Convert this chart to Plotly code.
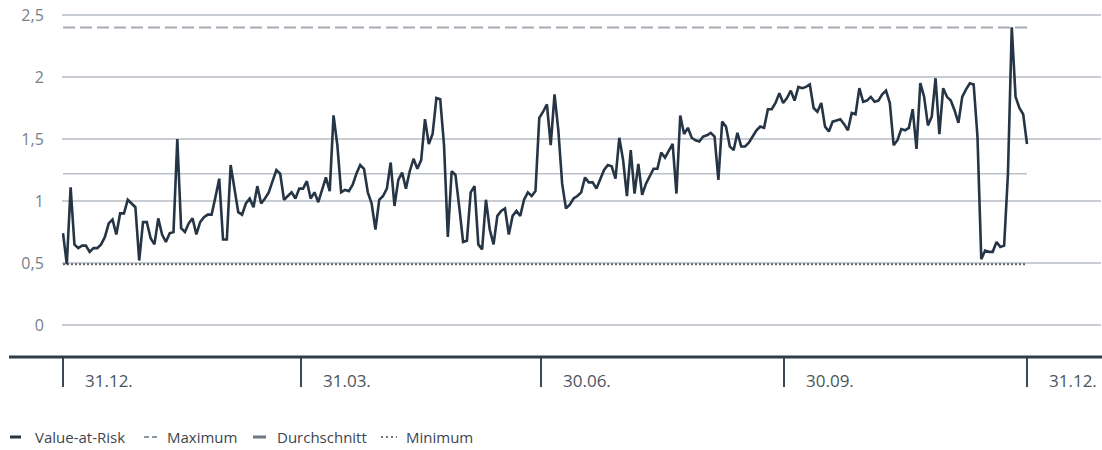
import plotly.graph_objects as go
import pandas as pd

# ---------------- data ----------------
START = "2020-12-31"
END = "2021-12-31"

var_values = [
    0.74, 0.49, 1.11, 0.65, 0.62, 0.64, 0.64, 0.59, 0.62, 0.62,
    0.65, 0.71, 0.82, 0.85, 0.73, 0.90, 0.90, 1.01, 0.98, 0.95,
    0.52, 0.83, 0.83, 0.70, 0.65, 0.86, 0.73, 0.67, 0.74, 0.75,
    1.50, 0.78, 0.75, 0.82, 0.86, 0.73, 0.83, 0.87, 0.89, 0.89,
    1.03, 1.18, 0.69, 0.69, 1.29, 1.08, 0.91, 0.89, 0.98, 1.02,
    0.95, 1.12, 0.98, 1.02, 1.07, 1.16, 1.25, 1.22, 1.01, 1.04,
    1.07, 1.02, 1.10, 1.10, 1.16, 1.02, 1.07, 0.99, 1.09, 1.19,
    1.08, 1.69, 1.45, 1.07, 1.09, 1.08, 1.13, 1.22, 1.29, 1.26,
    1.07,
    0.98, 0.77, 1.01, 1.04, 1.10, 1.31, 0.96, 1.17, 1.23, 1.10,
    1.24, 1.34, 1.26, 1.33, 1.66, 1.46, 1.54, 1.83, 1.82, 1.45,
    0.71, 1.24, 1.21, 0.95, 0.67, 0.68, 1.07, 1.12, 0.65, 0.61,
    1.01, 0.77, 0.65, 0.88, 0.92, 0.94, 0.73, 0.88, 0.92, 0.88,
    1.01, 1.07, 1.04, 1.08, 1.67, 1.72, 1.78, 1.45, 1.86, 1.57,
    1.14, 0.94, 0.97, 1.02, 1.04, 1.07, 1.19, 1.15, 1.15, 1.10,
    1.18, 1.25, 1.29, 1.28, 1.18, 1.51, 1.33, 1.04, 1.41, 1.06,
    1.30, 1.05, 1.14, 1.20, 1.26, 1.26, 1.39, 1.35, 1.40, 1.46,
    1.06, 1.69, 1.54, 1.59, 1.51, 1.49, 1.48, 1.52, 1.53, 1.55,
    1.52, 1.17, 1.64,
    1.60, 1.44, 1.41, 1.55, 1.44, 1.44, 1.47, 1.52, 1.57, 1.60,
    1.59, 1.74, 1.74, 1.79, 1.87, 1.79, 1.83, 1.89, 1.81, 1.92,
    1.91, 1.92, 1.94, 1.75, 1.72, 1.79, 1.60, 1.56, 1.64, 1.65,
    1.66, 1.62, 1.57, 1.71, 1.70, 1.91, 1.80, 1.81, 1.84, 1.80,
    1.81, 1.86, 1.89, 1.79, 1.45, 1.49, 1.58, 1.57, 1.59, 1.74,
    1.42, 1.95, 1.84, 1.61, 1.68, 1.99, 1.54, 1.91, 1.84, 1.81,
    1.73, 1.63, 1.84, 1.90, 1.95, 1.94, 1.52, 0.53, 0.60, 0.59,
    0.59, 0.67, 0.63, 0.64, 1.22, 2.40, 1.84, 1.75, 1.70, 1.46,
]

MAXIMUM = 2.40
AVERAGE = 1.22
MINIMUM = 0.49

y_tick_values = [0, 0.5, 1, 1.5, 2, 2.5]
x_tick_dates = ["2020-12-31", "2021-03-31", "2021-06-30", "2021-09-30", "2021-12-31"]
x_tick_labels = ["31.12.", "31.03.", "30.06.", "30.09.", "31.12."]
legend_names = ["Value-at-Risk", "Maximum", "Durchschnitt", "Minimum"]

# ---------------- geometry / style ----------------
W, H = 1102, 450
ML, MR, MT, MB = 62, 1, 10, 93
PLOT_W = W - ML - MR
PLOT_H = H - MT - MB
FONT = "Open Sans, Noto Sans, sans-serif"

VAR_COLOR = "#253545"
GRID_COLOR = "#c8cdd3"
MAX_COLOR = "#a4abb3"
AVG_COLOR = "#bcc2c9"
MIN_COLOR = "#5d6873"

start = pd.Timestamp(START)
end = pd.Timestamp(END)
dates = pd.date_range(start, end, periods=len(var_values))

days_total = (end - start).days
px_per_day = 964 / days_total
x_left = start - pd.Timedelta(days=1 / px_per_day)
x_right = start + pd.Timedelta(days=(W - MR - 63) / px_per_day)


def px_to_paper_x(px):
    return (px - ML) / PLOT_W


def px_to_paper_y(py):
    return (H - MB - py) / PLOT_H


fig = go.Figure()

# reference lines
fig.add_trace(go.Scatter(x=[start, end], y=[AVERAGE, AVERAGE], mode="lines",
                         line=dict(color=AVG_COLOR, width=1.5),
                         name=legend_names[2], hoverinfo="skip"))
fig.add_trace(go.Scatter(x=[start, end], y=[MINIMUM, MINIMUM], mode="lines",
                         line=dict(color=MIN_COLOR, width=2, dash="2px,2px"),
                         name=legend_names[3], hoverinfo="skip"))
fig.add_trace(go.Scatter(x=[start, end], y=[MAXIMUM, MAXIMUM], mode="lines",
                         line=dict(color=MAX_COLOR, width=2, dash="12px,5px"),
                         name=legend_names[1], hoverinfo="skip"))
# main series
fig.add_trace(go.Scatter(x=dates, y=var_values, mode="lines",
                         line=dict(color=VAR_COLOR, width=2.6),
                         name=legend_names[0]))

shapes = []
annotations = []

# thick baseline across the width
shapes.append(dict(type="line", xref="paper", yref="paper",
                   x0=px_to_paper_x(9), x1=px_to_paper_x(W), y0=0, y1=0,
                   line=dict(color="#2f3d4a", width=3)))

# x tick labels placed right of tick marks
for d, lab in zip(x_tick_dates, x_tick_labels):
    annotations.append(dict(x=d, xref="x", y=px_to_paper_y(380), yref="paper",
                            text=lab, showarrow=False, xanchor="left",
                            yanchor="middle", xshift=20,
                            font=dict(family=FONT, size=17, color="#4a5560")))

# manual legend
leg_y = px_to_paper_y(437)
legend_items = [
    (legend_names[0], 10, 21, 33, VAR_COLOR, "solid", 3),
    (legend_names[1], 144, 157, 165, "#8c949d", "5px,3px", 2),
    (legend_names[2], 253, 266, 275, "#6e7882", "solid", 3),
    (legend_names[3], 381, 397, 404, "#6e7882", "2px,3px", 2),
]
for name, s0, s1, tx, col, dash, w in legend_items:
    shapes.append(dict(type="line", xref="paper", yref="paper",
                       x0=px_to_paper_x(s0), x1=px_to_paper_x(s1),
                       y0=leg_y, y1=leg_y,
                       line=dict(color=col, width=w, dash=dash)))
    annotations.append(dict(x=px_to_paper_x(tx), xref="paper", y=leg_y, yref="paper",
                            text=name, showarrow=False, xanchor="left",
                            yanchor="middle",
                            font=dict(family=FONT, size=15, color="#3c4650")))

fig.update_layout(
    width=W, height=H,
    margin=dict(l=ML, r=MR, t=MT, b=MB, pad=0),
    paper_bgcolor="white", plot_bgcolor="white",
    separators=",.",
    showlegend=False,
    font=dict(family=FONT),
    shapes=shapes,
    annotations=annotations,
    xaxis=dict(
        type="date",
        range=[x_left, x_right],
        tickvals=x_tick_dates,
        ticktext=["" for _ in x_tick_dates],
        ticks="outside", ticklen=29, tickwidth=1.5, tickcolor="#3c4854",
        showgrid=False, zeroline=False, showline=False,
    ),
    yaxis=dict(
        range=[(-(H - MB - 325)) / 124, 2.5 + (15 - MT) / 124],
        tickvals=y_tick_values,
        showgrid=True, gridcolor=GRID_COLOR, gridwidth=1.5,
        zeroline=False, showline=False,
        ticks="outside", ticklen=14, tickcolor="rgba(0,0,0,0)",
        tickfont=dict(family=FONT, size=16, color="#78818a"),
    ),
)

fig.write_html("out.html",
               config={"displayModeBar": False},
               post_script="document.body.style.margin='0';document.body.style.overflow='hidden';")
